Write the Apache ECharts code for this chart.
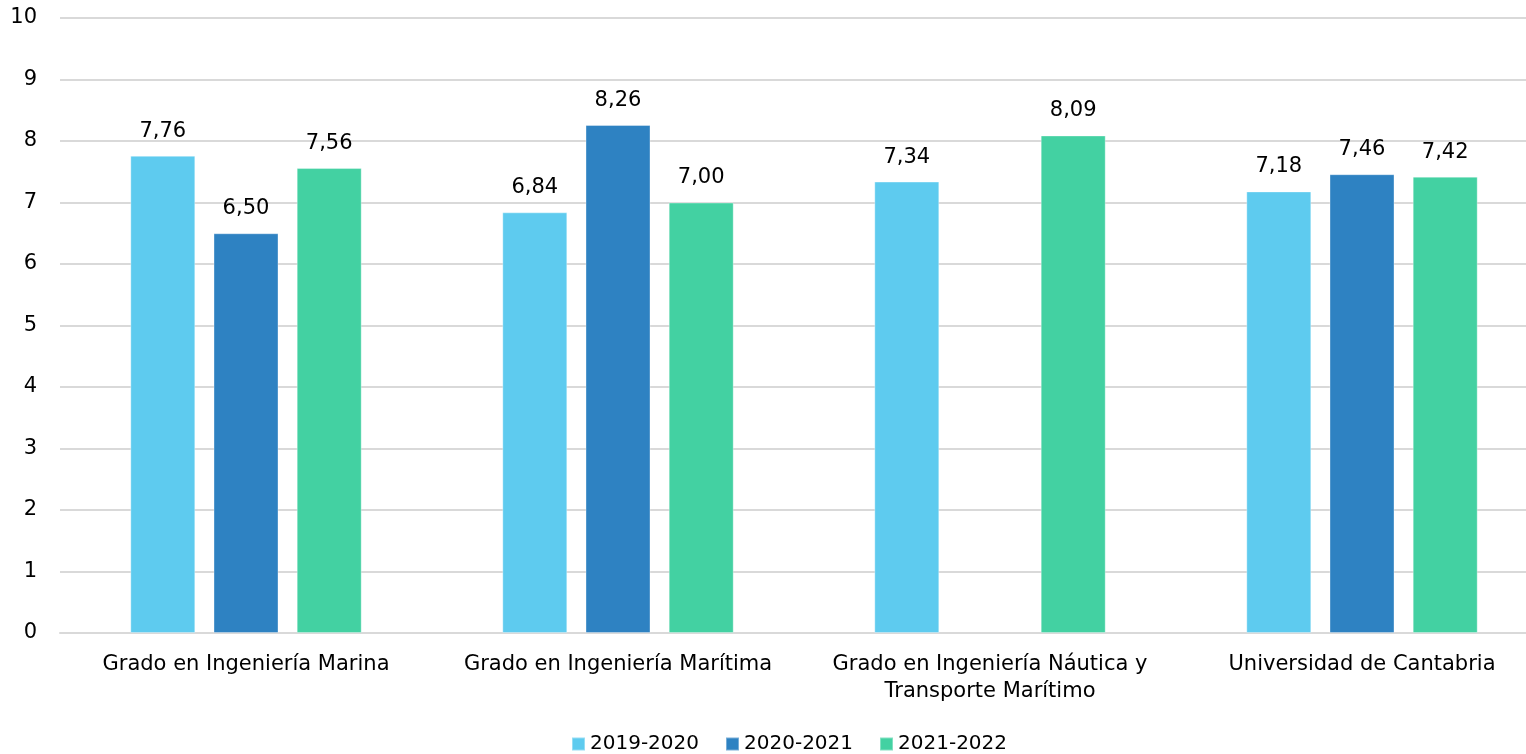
<!DOCTYPE html>
<html>
<head>
<meta charset="utf-8">
<script src="https://cdn.jsdelivr.net/npm/echarts@6/dist/echarts.min.js"></script>
<style>
html,body{margin:0;padding:0;background:#fff;}
#chart{width:1526px;height:754px;}
</style>
</head>
<body>
<div id="chart"></div>
<script>
const categories = [
  "Grado en Ingeniería Marina",
  "Grado en Ingeniería Marítima",
  "Grado en Ingeniería Náutica y\nTransporte Marítimo",
  "Universidad de Cantabria"
];
const seriesNames = ["2019-2020", "2020-2021", "2021-2022"];
const s2019 = [7.76, 6.84, 7.34, 7.18];
const s2020 = [6.50, 8.26, null, 7.46];
const s2021 = [7.56, 7.00, 8.09, 7.42];
const colors = ["#5ECBEF", "#2E82C2", "#43D1A2"];
const yTicks = [0, 1, 2, 3, 4, 5, 6, 7, 8, 9, 10];

const FONT = "DejaVu Sans";
const chart = echarts.init(document.getElementById('chart'), null, {renderer: 'canvas'});
const fmt = p => (p.value == null ? '' : Number(p.value).toFixed(2).replace('.', ','));
const mk = (name, data, color) => ({
  name, type: 'bar', data,
  barWidth: 65, barGap: '28%',
  itemStyle: {color, borderColor: 'rgba(255,255,255,0.35)', borderWidth: 1},
  label: {show: true, position: 'top', distance: 14, formatter: fmt,
          color: '#000', fontFamily: FONT, fontSize: 21},
  emphasis: {disabled: true}
});
chart.setOption({
  animation: false,
  textStyle: {fontFamily: FONT},
  grid: {left: 60, width: 1488, top: 18, bottom: 121, containLabel: false, outerBoundsMode: 'none'},
  legend: {
    data: seriesNames, bottom: -5, left: 566,
    icon: 'rect', itemWidth: 13, itemHeight: 13, itemGap: 26,
    textStyle: {fontFamily: FONT, fontSize: 20, color: '#000'}
  },
  xAxis: {
    type: 'category', data: categories,
    axisLine: {lineStyle: {color: '#D9D9D9', width: 2}},
    axisTick: {show: false},
    axisLabel: {fontFamily: FONT, fontSize: 21, color: '#000', margin: 18, lineHeight: 27, interval: 0}
  },
  yAxis: {
    type: 'value', min: yTicks[0], max: yTicks[yTicks.length - 1], interval: 1,
    axisLine: {show: false}, axisTick: {show: false},
    splitLine: {lineStyle: {color: '#D9D9D9', width: 2}},
    axisLabel: {fontFamily: FONT, fontSize: 21, color: '#000', margin: 23}
  },
  series: [mk(seriesNames[0], s2019, colors[0]), mk(seriesNames[1], s2020, colors[1]), mk(seriesNames[2], s2021, colors[2])]
});
</script>
</body>
</html>
